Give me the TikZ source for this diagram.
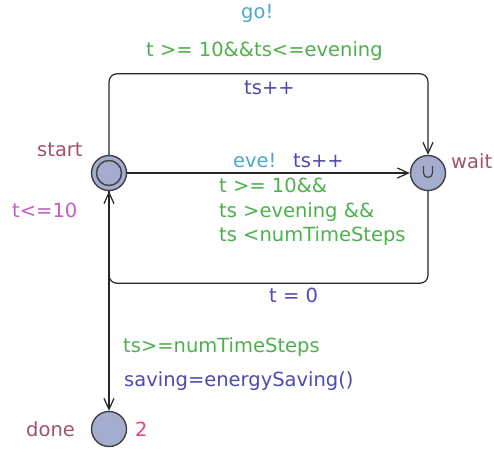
\documentclass[tikz,border=0pt]{standalone}
\usepackage{fontspec}
\setmainfont{DejaVu Sans}
\usetikzlibrary{arrows.meta}

\definecolor{locfill}{RGB}{164,173,207}
\definecolor{namecol}{RGB}{160,80,112}
\definecolor{invcol}{RGB}{192,96,192}
\definecolor{synccol}{RGB}{80,168,200}
\definecolor{guardcol}{RGB}{76,176,76}
\definecolor{updcol}{RGB}{75,75,176}
\definecolor{ratecol}{RGB}{232,64,138}

\begin{document}
\begin{tikzpicture}[
  x=1pt, y=-1pt,
  loc/.style={circle, draw=black!75, fill=locfill, line width=1.4pt, minimum size=35pt, inner sep=0pt},
  edge/.style={draw=black!85, line width=1.2pt, rounded corners=8pt},
  lbl/.style={anchor=base west, inner sep=0pt, font=\fontsize{19.5}{23}\selectfont},
  >={Straight Barb[length=11pt, width=10pt]}
]
\useasboundingbox (0,0) rectangle (494,450);

% locations
\node[loc] (start) at (109,173) {};
\node[loc] (wait) at (428,173) {};
\node[loc] (done) at (109,429) {};
\draw[line width=1.4pt, black!75] (start.center) circle[radius=12.5];
\draw[line width=1.2pt, black!75] (423.5,166) -- (423.5,173) arc[start angle=180, end angle=0, radius=4.5] -- (432.5,166);

\node[lbl, text=namecol] (startname) at (37,156) {start};
\node[lbl, text=namecol] (waitname) at (451,168) {wait};
\node[lbl, text=namecol] (donename) at (26,436) {done};
\node[lbl, text=invcol] (startinv) at (12,217) {t<=10};
\node[lbl, text=ratecol] (donerate) at (135,436) {2};

% edges
\draw[edge, ->] (start.north) -- ++(0,-81) -| (wait.north);
\draw[edge, ->] (start.east) -- (wait.west);
\draw[edge, ->] (wait.south) -- ++(0,92) -| (start.south);
\draw[edge, ->] (start.south) -- (done.north);

% labels on the top loop
\node[lbl, text=synccol] (gosync) at (241,18) {go!};
\node[lbl, text=guardcol] (goguard) at (146,56) {t >= 10\&\&ts<=evening};
\node[lbl, text=updcol] (goupd) at (244,94) {ts++};

% labels on the middle edge
\node[lbl, text=synccol] (evesync) at (233,167) {eve!};
\node[lbl, text=updcol] (eveupd) at (293,167) {ts++};
\node[lbl, text=guardcol] (eveguard1) at (219,192) {t >= 10\&\&};
\node[lbl, text=guardcol] (eveguard2) at (219,217) {ts >evening \&\&};
\node[lbl, text=guardcol] (eveguard3) at (219,241) {ts <numTimeSteps};

% label on the bottom loop
\node[lbl, text=updcol] (resetupd) at (269,302) {t = 0};

% labels on the edge to done
\node[lbl, text=guardcol] (doneguard) at (123,352) {ts>=numTimeSteps};
\node[lbl, text=updcol] (doneupd) at (124,386) {saving=energySaving()};
\end{tikzpicture}
\end{document}
